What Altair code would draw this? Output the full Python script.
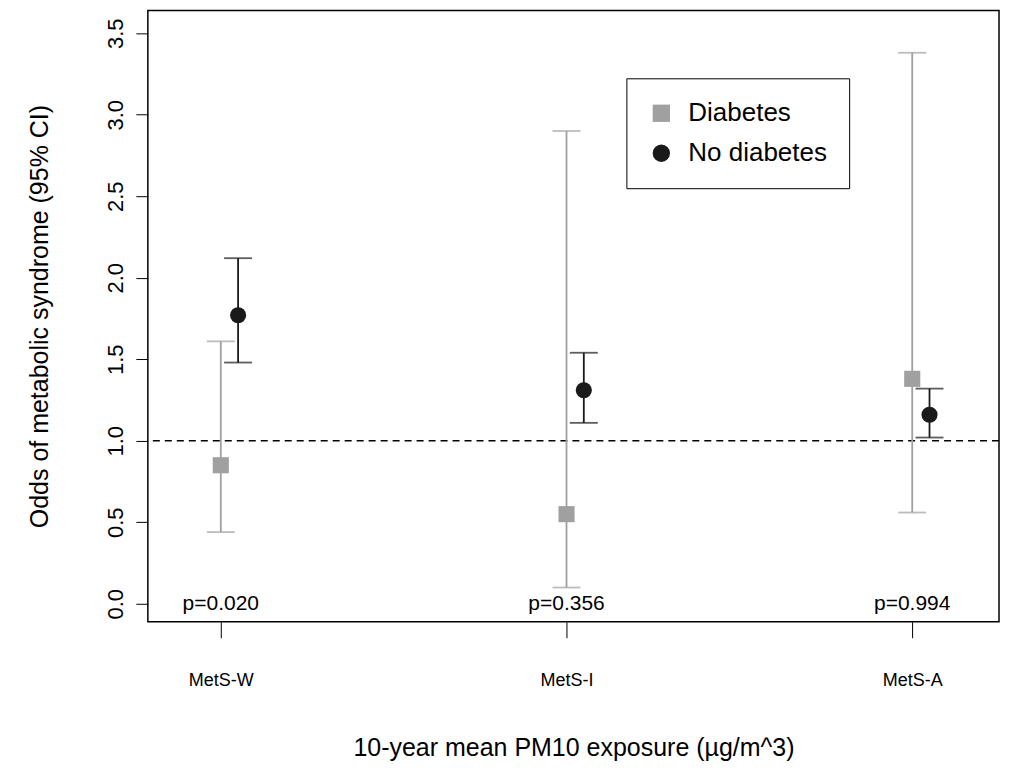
import altair as alt
import pandas as pd

cats = ["MetS-W", "MetS-I", "MetS-A"]
groups = ["Diabetes", "No diabetes"]
diab_or = [0.85, 0.55, 1.38]
diab_lo = [0.44, 0.10, 0.56]
diab_hi = [1.61, 2.90, 3.38]
nodiab_or = [1.77, 1.31, 1.16]
nodiab_lo = [1.48, 1.11, 1.02]
nodiab_hi = [2.12, 1.54, 1.32]
pvals = ["p=0.020", "p=0.356", "p=0.994"]

rows = []
for i, c in enumerate(cats):
    rows.append(dict(cat=c, group="Diabetes", pos=i + 1, est=diab_or[i], lo=diab_lo[i], hi=diab_hi[i]))
    rows.append(dict(cat=c, group="No diabetes", pos=i + 1.05, est=nodiab_or[i], lo=nodiab_lo[i], hi=nodiab_hi[i]))
df = pd.DataFrame(rows)
pdf = pd.DataFrame({"pos": [1, 2, 3], "p": pvals, "y": [0.0] * 3})

xs = alt.Scale(domain=[0.789, 3.251], nice=False, zero=False)
ys = alt.Scale(domain=[-0.11, 3.64], nice=False, zero=False)
col = alt.Scale(domain=groups, range=["#a0a0a0", "#1a1a1a"])
shp = alt.Scale(domain=groups, range=["square", "circle"])

leg = alt.Legend(
    title=None, orient="none", legendX=479, legendY=68, strokeColor="black",
    padding=22, labelFontSize=26, symbolSize=300, rowPadding=14, labelColor="black",
    labelLimit=300, symbolStrokeWidth=0, symbolOpacity=1, labelOffset=14)
color_enc = alt.Color("group:N", scale=col, legend=leg)
shape_enc = alt.Shape("group:N", scale=shp, legend=leg)

x_enc = alt.X(
    "pos:Q", scale=xs,
    axis=alt.Axis(values=[1, 2, 3], labelExpr="['','MetS-W','MetS-I','MetS-A'][datum.value]",
                  title="10-year mean PM10 exposure (µg/m^3)", grid=False, domain=False,
                  tickSize=16, tickColor="black", labelPadding=34, labelFontSize=18,
                  titleFontSize=25, titleFontWeight="normal", titlePadding=46, labelColor="black",
                  titleColor="black"),
)
y_axis = alt.Axis(values=[0, 0.5, 1, 1.5, 2, 2.5, 3, 3.5], format=".1f", labelAngle=-90,
                  labelAlign="center", labelBaseline="bottom", grid=False, domain=False,
                  tickSize=12, tickColor="black", labelFontSize=22, labelPadding=8,
                  title="Odds of metabolic syndrome (95% CI)", titleFontSize=25,
                  titleFontWeight="normal", titlePadding=52, labelColor="black", titleColor="black")

base = alt.Chart(df)
bars = base.mark_rule(strokeWidth=1.8).encode(
    x=x_enc, y=alt.Y("lo:Q", scale=ys, axis=y_axis), y2="hi:Q", color=color_enc)
caps_lo = base.mark_tick(orient="horizontal", size=28, thickness=1.8).encode(
    x="pos:Q", y="lo:Q", color=color_enc)
caps_hi = base.mark_tick(orient="horizontal", size=28, thickness=1.8).encode(
    x="pos:Q", y="hi:Q", color=color_enc)
pts = base.mark_point(filled=True, opacity=1, size=260).encode(
    x="pos:Q", y="est:Q", color=color_enc, shape=shape_enc)
ref = alt.Chart(pd.DataFrame({"y": [1.0]})).mark_rule(strokeDash=[7, 5], color="black", strokeWidth=1.5).encode(y="y:Q")
ptxt = alt.Chart(pdf).mark_text(fontSize=21, color="black", baseline="middle").encode(
    x="pos:Q", y="y:Q", text="p:N")

chart = (ref + bars + caps_lo + caps_hi + pts + ptxt).properties(
    width=852, height=612, padding={"left": 20, "top": 2, "right": 3, "bottom": 0}
).configure(
    font="Liberation Sans",
    view=alt.ViewConfig(stroke="black", strokeWidth=1.5),
)
chart.save("out.html", embed_options={"renderer": "svg", "actions": False})
